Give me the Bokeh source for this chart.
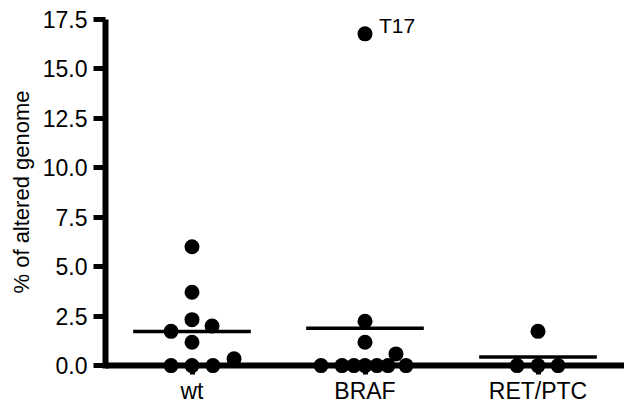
import numpy as np
from bokeh.plotting import figure
from bokeh.models import Range1d, FactorRange, FixedTicker, PrintfTickFormatter, ColumnDataSource, Span
from bokeh.core.properties import value
from bokeh.embed import file_html
from bokeh.resources import INLINE

# ---- data ----
categories = ["wt", "BRAF", "RET/PTC"]
wt_values = [6.0, 3.7, 2.32, 2.0, 1.73, 1.18, 0.34, 0.0, 0.0, 0.0]
braf_values = [16.75, 2.24, 1.18, 0.59, 0.0, 0.0, 0.0, 0.0, 0.0, 0.0, 0.0]
retptc_values = [1.73, 0.0, 0.0, 0.0]
y_ticks = [0.0, 2.5, 5.0, 7.5, 10.0, 12.5, 15.0, 17.5]
outlier_label = "T17"

# ---- swarm layout (horizontal dodge within each category) ----
wt_dodge = [0, 0, 0, 0.116, -0.121, 0, 0.243, -0.121, 0, 0.121]
braf_dodge = [0, 0, 0, 0.179, -0.254, -0.133, -0.064, 0, 0.069, 0.133, 0.237]
retptc_dodge = [0, -0.121, 0, 0.116]

groups = [wt_values, braf_values, retptc_values]
dodges = [wt_dodge, braf_dodge, retptc_dodge]

FONT = "Liberation Sans"

p = figure(
    width=624, height=406,
    x_range=FactorRange(*categories, range_padding=0),
    y_range=Range1d(-0.45, 17.98),
    output_backend="svg", toolbar_location=None,
    min_border_left=105, min_border_right=0, min_border_top=9, min_border_bottom=32,
)
p.outline_line_color = None
p.xgrid.grid_line_color = None
p.ygrid.grid_line_color = None
p.background_fill_color = "white"
p.border_fill_color = "white"

# x-axis baseline at zero
p.add_layout(Span(location=0, dimension="width", line_color="black", line_width=6))

# mean lines
mx0, mx1, my = [], [], []
for cat, vals in zip(categories, groups):
    m = float(np.mean(vals))
    mx0.append((cat, -0.34))
    mx1.append((cat, 0.34))
    my.append(m)
p.segment(x0=mx0, y0=my, x1=mx1, y1=my, line_color="black", line_width=3.5)

# points
xs, ys = [], []
for cat, vals, dg in zip(categories, groups, dodges):
    for v, d in zip(vals, dg):
        xs.append((cat, d))
        ys.append(v)
src = ColumnDataSource(dict(x=xs, y=ys))
p.scatter("x", "y", source=src, size=15, fill_color="black", line_color=None)

# outlier label
top_i = int(np.argmax(braf_values))
p.text(x=[("BRAF", braf_dodge[top_i])], y=[braf_values[top_i]], text=[outlier_label],
       x_offset=14, y_offset=-8, text_font=value(FONT), text_font_size="21px",
       text_color="black", text_baseline="alphabetic", text_align="left")

# axes
yax = p.yaxis[0]
yax.ticker = FixedTicker(ticks=y_ticks)
yax.formatter = PrintfTickFormatter(format="%.1f")
yax.bounds = (-0.15, 17.5)
yax.axis_label = "% of altered genome"
yax.axis_label_text_font = FONT
yax.axis_label_text_font_size = "22px"
yax.axis_label_text_font_style = "normal"
yax.axis_label_text_color = "black"
yax.axis_label_standoff = 6
yax.axis_line_width = 6
yax.axis_line_color = "black"
yax.major_tick_line_width = 5
yax.major_tick_line_color = "black"
yax.major_tick_out = 12
yax.major_tick_in = 0
yax.minor_tick_line_color = None
yax.major_label_text_font = FONT
yax.major_label_text_font_size = "23px"
yax.major_label_text_color = "black"
yax.major_label_standoff = 6

xax = p.xaxis[0]
xax.axis_line_color = None
xax.major_tick_line_width = 5
xax.major_tick_line_color = "black"
xax.major_tick_out = 0
xax.major_tick_in = 12
xax.major_label_text_font = FONT
xax.major_label_text_font_size = "23px"
xax.major_label_text_color = "black"
xax.major_label_standoff = 3

open("out.html", "w").write(file_html(p, INLINE))
